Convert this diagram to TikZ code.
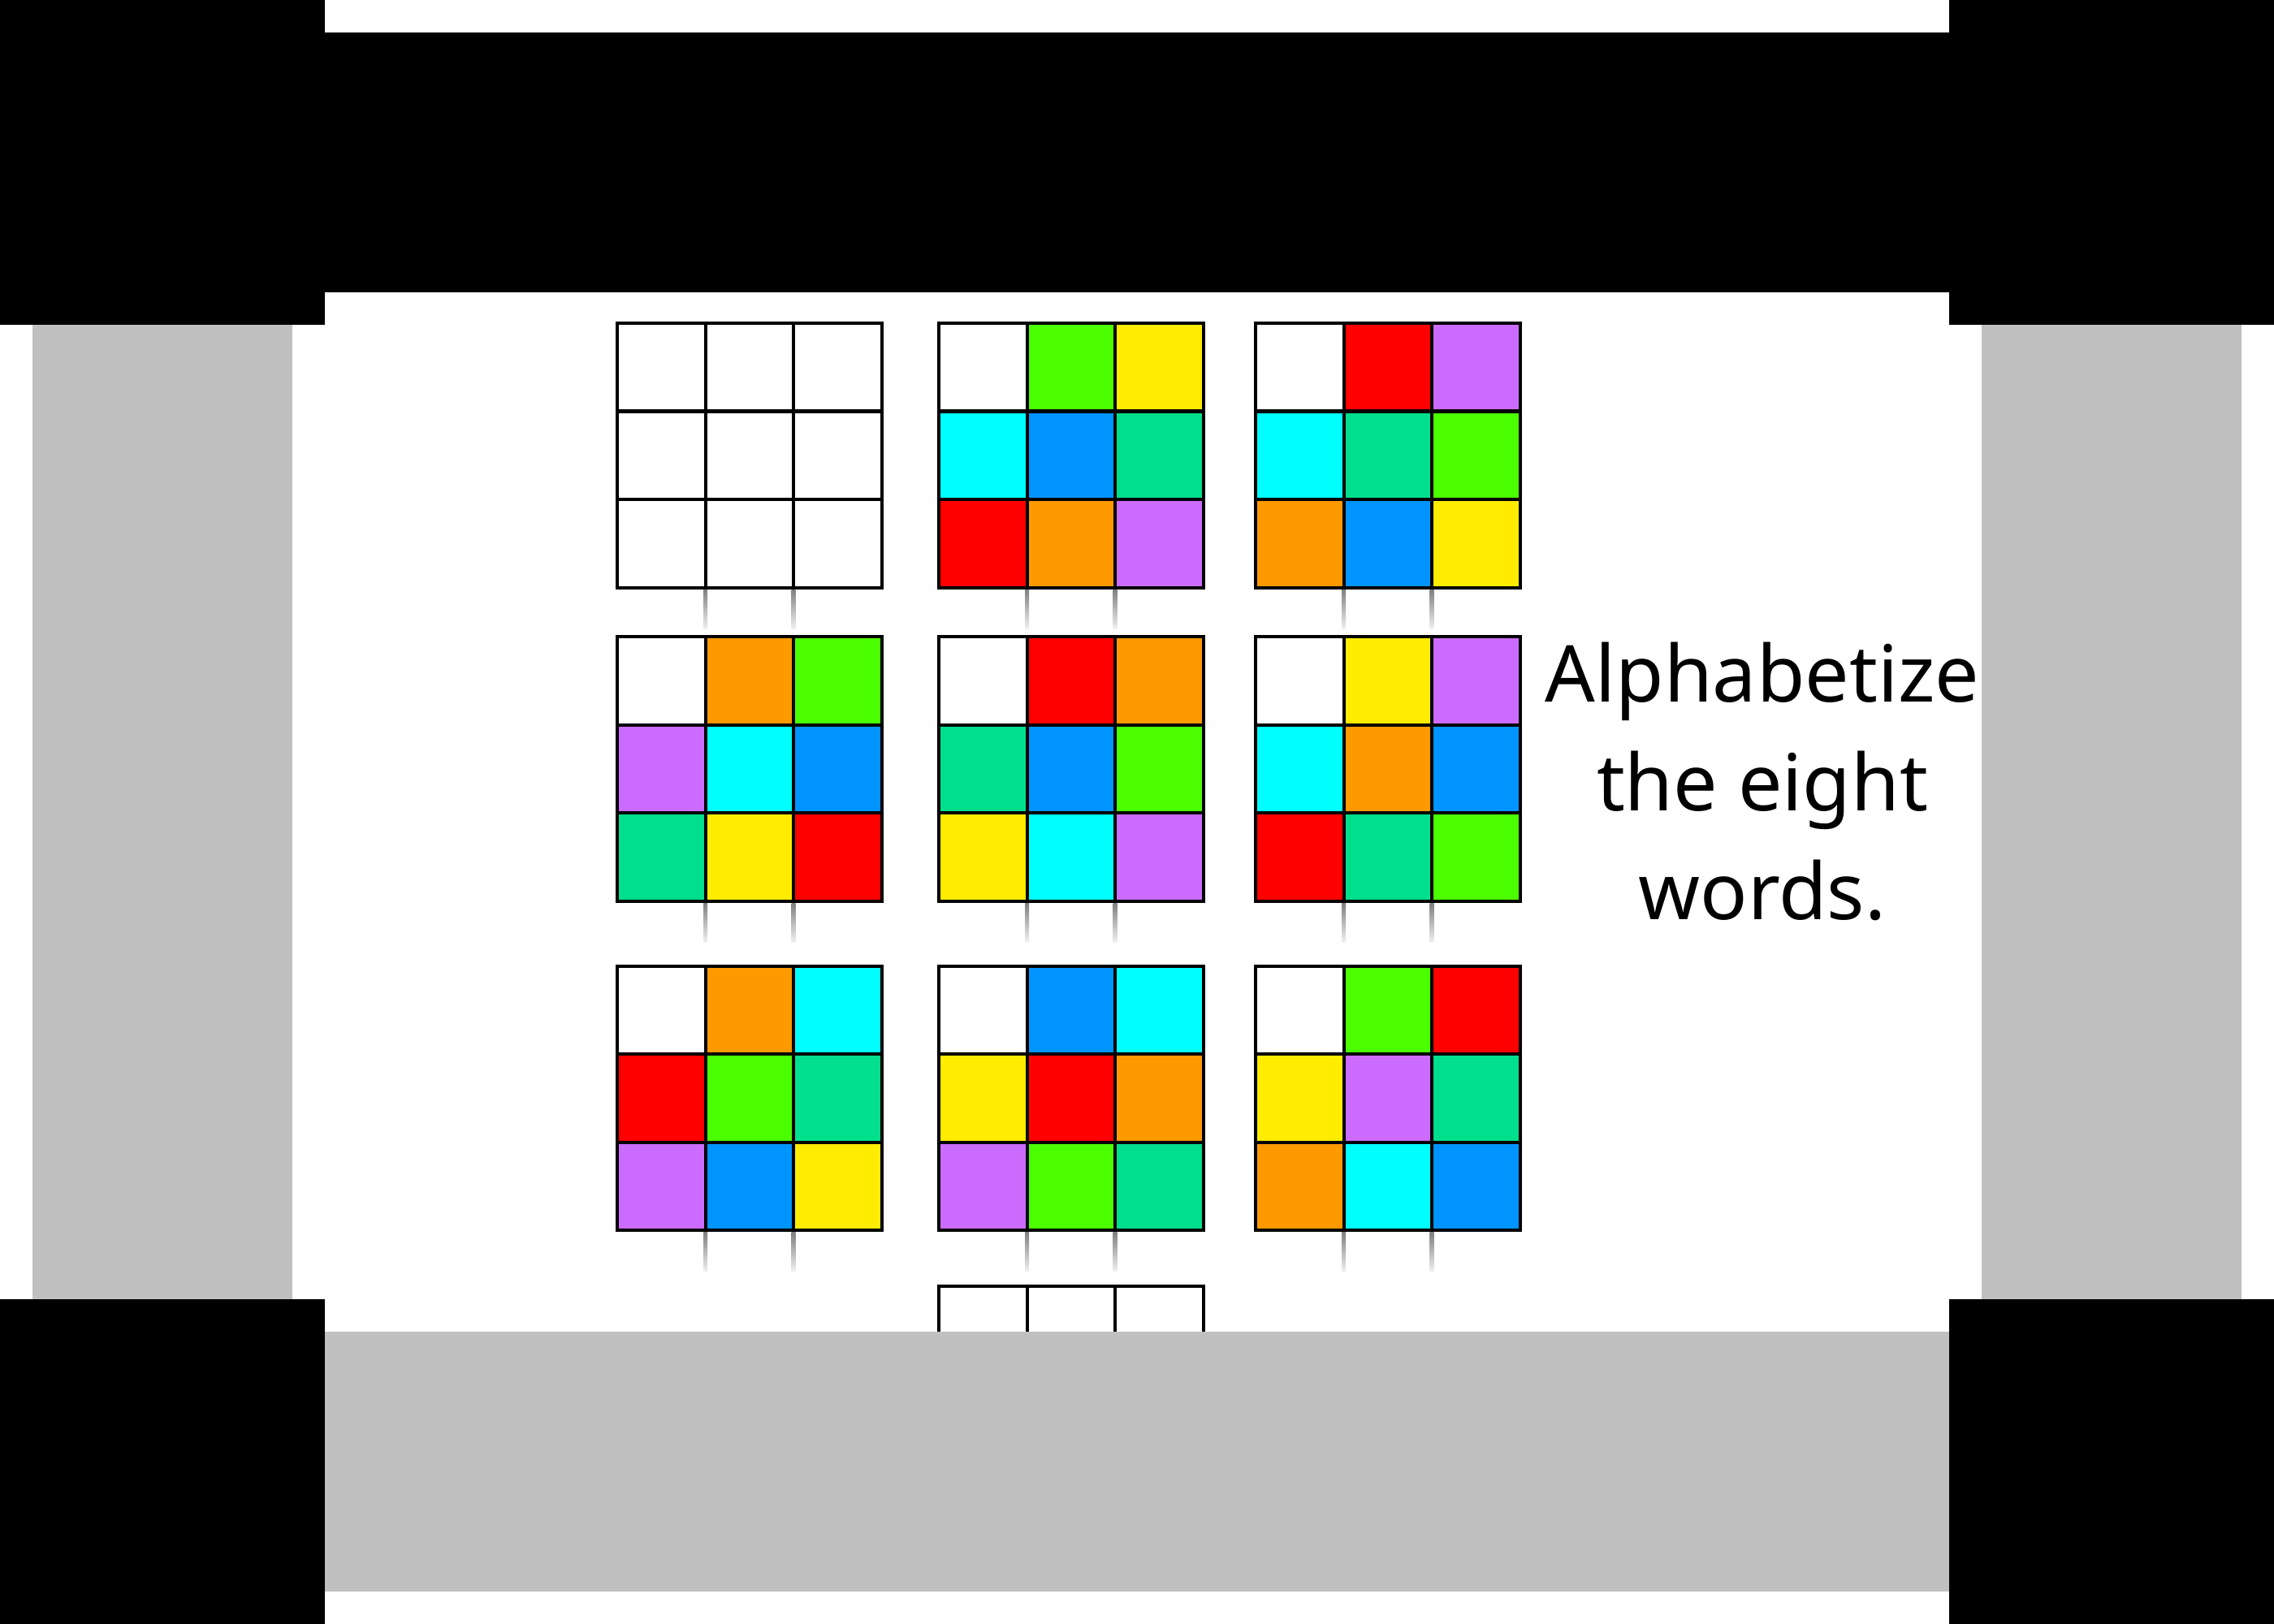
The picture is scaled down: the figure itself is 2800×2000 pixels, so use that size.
\documentclass[tikz,border=0pt]{standalone}
\usepackage{fontspec}
\setmainfont{Noto Sans}
\definecolor{cOr}{RGB}{255,153,0}
\definecolor{cLi}{RGB}{76,255,0}
\definecolor{cYe}{RGB}{255,236,0}
\definecolor{cCy}{RGB}{0,255,255}
\definecolor{cBl}{RGB}{0,148,255}
\definecolor{cTe}{RGB}{0,224,140}
\definecolor{cRe}{RGB}{255,0,0}
\definecolor{cPu}{RGB}{204,108,255}
\definecolor{cGr}{RGB}{192,192,192}
\def\cs{108.5}
\newcommand{\cgrid}[3]{%
  \foreach \cc [count=\i from 0] in {#3} {%
    \pgfmathsetmacro\rr{floor(\i/3)}%
    \pgfmathsetmacro\kk{mod(\i,3)}%
    \filldraw[cell, fill=\cc] ({#1+\kk*\cs},{#2+\rr*\cs}) rectangle ++(\cs,\cs);
  }%
}
\newcommand{\gticks}[2]{%
  \foreach \t in {1,2} {%
    \shade[top color=black!50, bottom color=black!6] ({#1+\t*\cs-2.5},{#2+3*\cs+2.5}) rectangle ++(5,48);
  }%
}
\tikzset{
  cell/.style={draw=black, line width=1.14pt},
  frameblack/.style={fill=black},
  framegray/.style={fill=cGr},
  instr/.style={align=center, inner sep=0pt, font=\fontsize{27.5pt}{38.1pt}\selectfont}
}
\begin{document}
\begin{tikzpicture}[x=0.01cm,y=-0.01cm]
\fill[white] (0,0) rectangle (2800,2000);
\useasboundingbox (0,0) rectangle (2800,2000);
% row 1
\cgrid{760}{398}{white,white,white,white,white,white,white,white,white}
\cgrid{1156}{398}{white,cLi,cYe,cCy,cBl,cTe,cRe,cOr,cPu}
\cgrid{1546}{398}{white,cRe,cPu,cCy,cTe,cLi,cOr,cBl,cYe}
% row 2
\cgrid{760}{784}{white,cOr,cLi,cPu,cCy,cBl,cTe,cYe,cRe}
\cgrid{1156}{784}{white,cRe,cOr,cTe,cBl,cLi,cYe,cCy,cPu}
\cgrid{1546}{784}{white,cYe,cPu,cCy,cOr,cBl,cRe,cTe,cLi}
% row 3
\cgrid{760}{1189.5}{white,cOr,cCy,cRe,cLi,cTe,cPu,cBl,cYe}
\cgrid{1156}{1189.5}{white,cBl,cCy,cYe,cRe,cOr,cPu,cLi,cTe}
\cgrid{1546}{1189.5}{white,cLi,cRe,cYe,cPu,cTe,cOr,cCy,cBl}
% row 4
\cgrid{1156}{1584}{white,white,white,white,white,white,white,white,white}
% ticks
\foreach \gx in {760,1156,1546} {
  \foreach \gy in {398,784,1189.5} {
    \gticks{\gx}{\gy}
  }
}
% text
\node[instr] (task) at (2170,962) {Alphabetize\\the eight\\words.};
% frame
\fill[framegray] (40,400) rectangle (360,1600);
\fill[framegray] (2440,400) rectangle (2760,1600);
\fill[framegray] (400,1640) rectangle (2400,1960);
\fill[frameblack] (0,40) rectangle (2800,360);
\fill[frameblack] (0,0) rectangle (400,400);
\fill[frameblack] (2400,0) rectangle (2800,400);
\fill[frameblack] (0,1600) rectangle (400,2000);
\fill[frameblack] (2400,1600) rectangle (2800,2000);
\end{tikzpicture}
\end{document}
